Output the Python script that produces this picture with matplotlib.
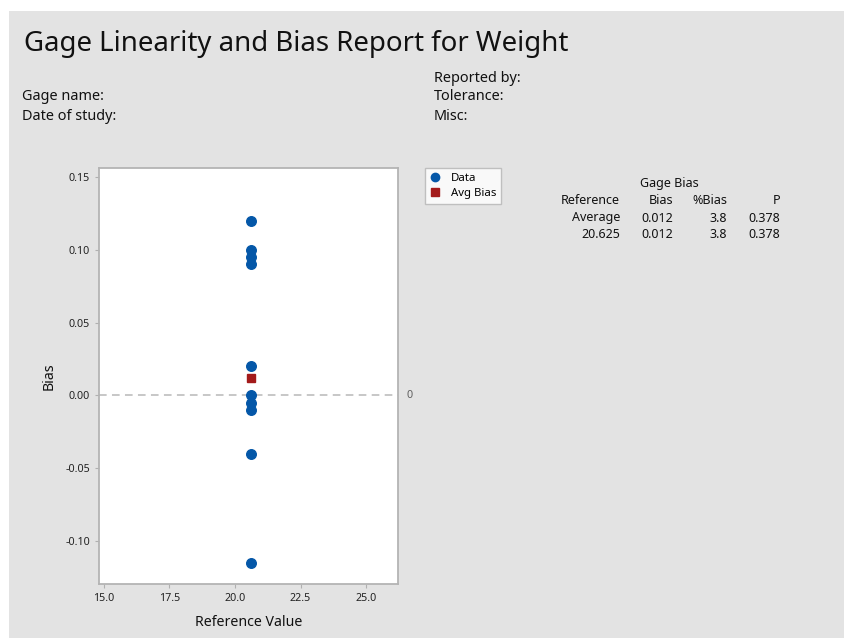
import numpy as np
import matplotlib.pyplot as plt
from matplotlib.patches import Rectangle
from matplotlib.lines import Line2D

plt.rcParams['font.family'] = ['Noto Sans', 'DejaVu Sans']

# gage study values
ref_value = 20.625
bias = [0.12, 0.10, 0.095, 0.09, 0.02, 0.00, -0.005, -0.01, -0.04, -0.115]
avg_bias = 0.012
pct_bias = 3.8
p_value = 0.378

table_cols = ['Reference', 'Bias', '%Bias', 'P']
table_rows = [['Average', f'{avg_bias:.3f}', f'{pct_bias:.1f}', f'{p_value:.3f}'],
              [f'{ref_value:.3f}', f'{avg_bias:.3f}', f'{pct_bias:.1f}', f'{p_value:.3f}']]

W, H = 845, 638
fig = plt.figure(figsize=(W / 100, H / 100), dpi=100)
fig.patch.set_facecolor('white')
fig.patches.append(Rectangle((9 / W, 0), 1, 1 - 11 / H, transform=fig.transFigure,
                             facecolor='#e3e3e3', edgecolor='none', zorder=-10))

def fx(px):
    return px / W

def fy(py):
    return 1 - py / H

fig.text(fx(24), fy(44), 'Gage Linearity and Bias Report for Weight', fontsize=19.9,
         va='center', ha='left', color='#111111')
for label, x, y in [('Gage name:', 22, 97), ('Date of study:', 22, 116),
                    ('Reported by:', 434, 78), ('Tolerance:', 434, 97), ('Misc:', 434, 116)]:
    fig.text(fx(x), fy(y), label, fontsize=10.4, va='center', ha='left', color='#111111')

ax = fig.add_axes([fx(99), fy(584), fx(398) - fx(99), fy(168) - fy(584)])
ax.set_facecolor('white')
ax.plot([ref_value] * len(bias), bias, 'o', color='#0457a8', markersize=6.9,
        linestyle='none', zorder=3)
ax.plot([ref_value], [avg_bias], 's', color='#a31a1a', markersize=6, zorder=4)
ax.axhline(0, color='#b8b8b8', linestyle=(0, (5, 3.5)), linewidth=1.1, zorder=1)
ax.text(1.03, 0, '0', transform=ax.get_yaxis_transform(), fontsize=7.8,
        color='#606060', va='center', ha='left')

ax.set_xlim(14.81, 26.22)
ax.set_ylim(-0.1296, 0.1562)
ax.set_xticks([15.0, 17.5, 20.0, 22.5, 25.0])
ax.set_yticks([-0.10, -0.05, 0.00, 0.05, 0.10, 0.15])
ax.xaxis.set_major_formatter(plt.FuncFormatter(lambda v, p: f'{v:.1f}'))
ax.yaxis.set_major_formatter(plt.FuncFormatter(lambda v, p: f'{v:.2f}'))
ax.tick_params(labelsize=7.7, colors='#b0b0b0', labelcolor='#222222', length=3, width=0.8)
for s in ax.spines.values():
    s.set_color('#b4b4b4')
    s.set_linewidth(1.3)
ax.set_xlabel('Reference Value', fontsize=10.2, color='#111111', labelpad=8)
ax.set_ylabel('Bias', fontsize=10.2, color='#111111', labelpad=6)

handles = [Line2D([], [], marker='o', color='#0457a8', linestyle='none', markersize=6),
           Line2D([], [], marker='s', color='#a31a1a', linestyle='none', markersize=5.8)]
leg = fig.legend(handles, ['Data', 'Avg Bias'], loc='upper left',
                 bbox_to_anchor=(fx(425), fy(168)), fontsize=8.2, frameon=True,
                 fancybox=False, edgecolor='#b4b4b4', handlelength=0.8,
                 handletextpad=1.0, borderpad=0.45, labelspacing=0.3, borderaxespad=0)
leg.get_frame().set_linewidth(1.0)

# gage bias table
fig.text(fx(669), fy(184), 'Gage Bias', fontsize=9, ha='center', va='center', color='#111111')
col_right = [620, 673, 727, 780]
for x, name in zip(col_right, table_cols):
    fig.text(fx(x), fy(201), name, fontsize=9, ha='right', va='center', color='#111111')
for r, row in enumerate(table_rows):
    for x, val in zip(col_right, row):
        fig.text(fx(x), fy(218 + 17 * r), val, fontsize=9, ha='right', va='center',
                 color='#111111')

fig.savefig('out.png', dpi=100, facecolor=fig.get_facecolor())
